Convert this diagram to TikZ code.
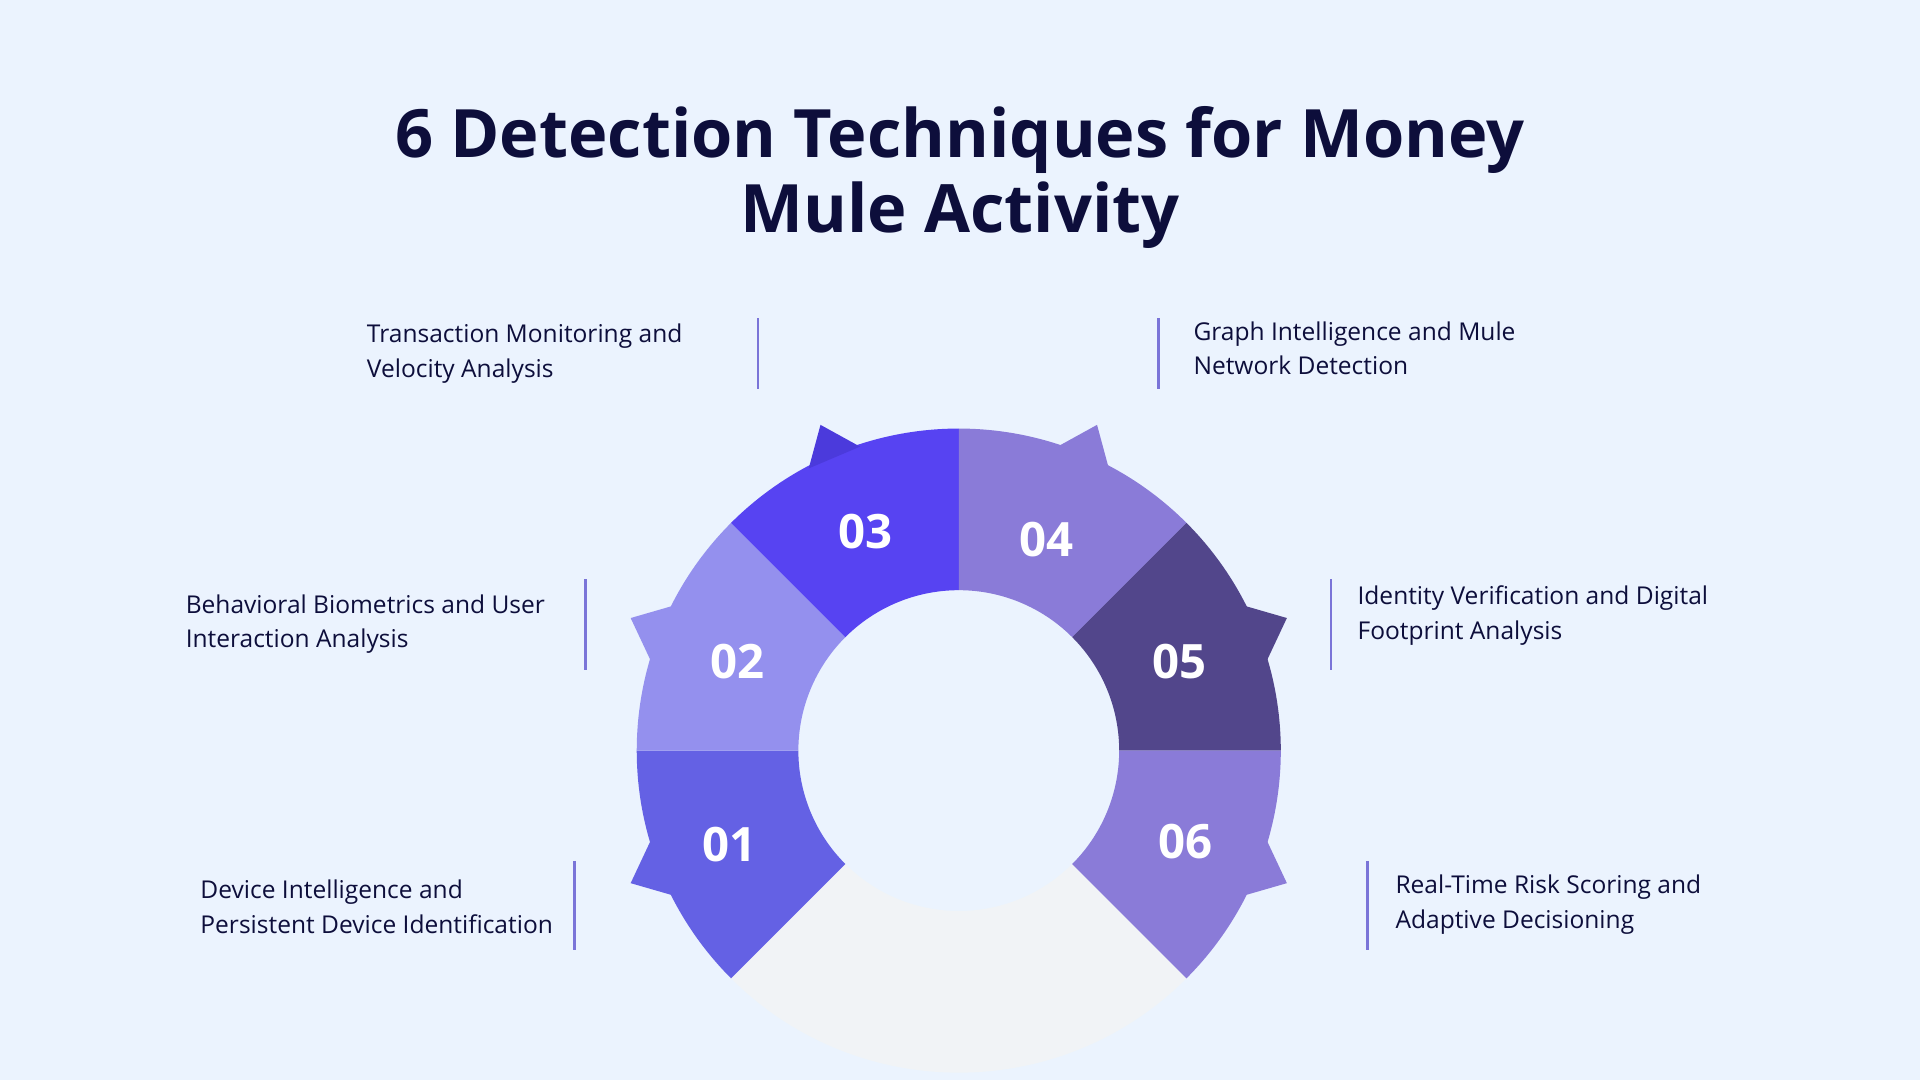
\documentclass[tikz,border=0pt]{standalone}
\usepackage{fontspec}
\setmainfont{Open Sans}
\usetikzlibrary{calc}
\begin{document}
\begin{tikzpicture}[x=0.01cm, y=0.01cm]
        % ----------- 共用參數 -----------
        \def\R{263}      % outer radius
        \def\r{131}      % inner radius
        \def\T{289}      % tooth tip radius
        \definecolor{bg}{HTML}{EBF3FE}
        \definecolor{ink}{HTML}{0D0E3B}
        \definecolor{segone}{HTML}{6461E4}
        \definecolor{segtwo}{HTML}{9490EE}
        \definecolor{segthree}{HTML}{5743F2}
        \definecolor{segthreedk}{HTML}{4B3ADC}
        \definecolor{segfour}{HTML}{8A7BD8}
        \definecolor{segfive}{HTML}{52468B}
        \definecolor{segsix}{HTML}{8A7BD8}
        \definecolor{segrest}{HTML}{F1F3F6}
        \definecolor{bar}{HTML}{7A74D8}
        \tikzset{
          num/.style={text=white, font=\fontsize{11}{11}\selectfont\bfseries},
          lbl/.style={text=ink, anchor=north west, align=left, inner sep=0pt,
            font=\fontsize{5.7}{8}\selectfont},
          vbar/.style={bar, line width=0.6pt}
        }
        % 背景
        \useasboundingbox (0,0) rectangle (1568,882);
        \fill[bg] (0,0) rectangle (1568,882);
        \coordinate (C) at (783,269);
        
        % 標題
        \node[text=ink, align=center, font=\fontsize{15.5}{17.5}\selectfont\bfseries]
          (title) at (784,737) {6 Detection Techniques for Money\\Mule Activity};
        
        % 環形底
        \fill[segrest] ($(C)+(225:\R)$) arc[start angle=225, end angle=315, radius=\R]
          -- ($(C)+(315:\r)$) arc[start angle=315, end angle=225, radius=\r] -- cycle;
        
        % 六段
        \foreach \a/\c in {180/segone, 135/segtwo, 90/segthree, 45/segfour, 0/segfive, -45/segsix}{
          \fill[\c] ($(C)+(\a:\R)$) arc[start angle=\a, end angle=\a+45, radius=\R]
            -- ($(C)+(\a+45:\r)$) arc[start angle=\a+45, end angle=\a, radius=\r] -- cycle;
        }
        
        % 齒
        \foreach \p/\t/\q/\c in {196/202/207/segone, 153/158/164/segtwo, 108/113/118/segthreedk,
                                  62/67/72/segfour, 16/22/27/segfive, -27/-22/-16/segsix}{
          \fill[\c] ($(C)+(\p:\R-2)$) -- ($(C)+(\t:\T)$) -- ($(C)+(\q:\R-2)$) -- cycle;
        }
        
        % 編號
        \node[num] (n1) at (596,192) {01};
        \node[num] (n2) at (602,342) {02};
        \node[num] (n3) at (707,448) {03};
        \node[num] (n4) at (855,441) {04};
        \node[num] (n5) at (963,342) {05};
        \node[num] (n6) at (968,195) {06};
        
        % 說明文字
        \node[lbl] (t3) at (299,618) {Transaction Monitoring and\\Velocity Analysis};
        \node[lbl] (t4) at (974,620) {Graph Intelligence and Mule\\Network Detection};
        \node[lbl] (t2) at (151,397) {Behavioral Biometrics and User\\Interaction Analysis};
        \node[lbl] (t5) at (1108,404) {Identity Verification and Digital\\Footprint Analysis};
        \node[lbl] (t1) at (163,164) {Device Intelligence and\\Persistent Device Identification};
        \node[lbl] (t6) at (1139,168) {Real-Time Risk Scoring and\\Adaptive Decisioning};
        
        % 分隔線
        \draw[vbar] (619,622) -- (619,564);
        \draw[vbar] (946,622) -- (946,564);
        \draw[vbar] (478,409) -- (478,335);
        \draw[vbar] (1087,409) -- (1087,335);
        \draw[vbar] (469,179) -- (469,106);
        \draw[vbar] (1117,179) -- (1117,106);
\end{tikzpicture}
\end{document}
